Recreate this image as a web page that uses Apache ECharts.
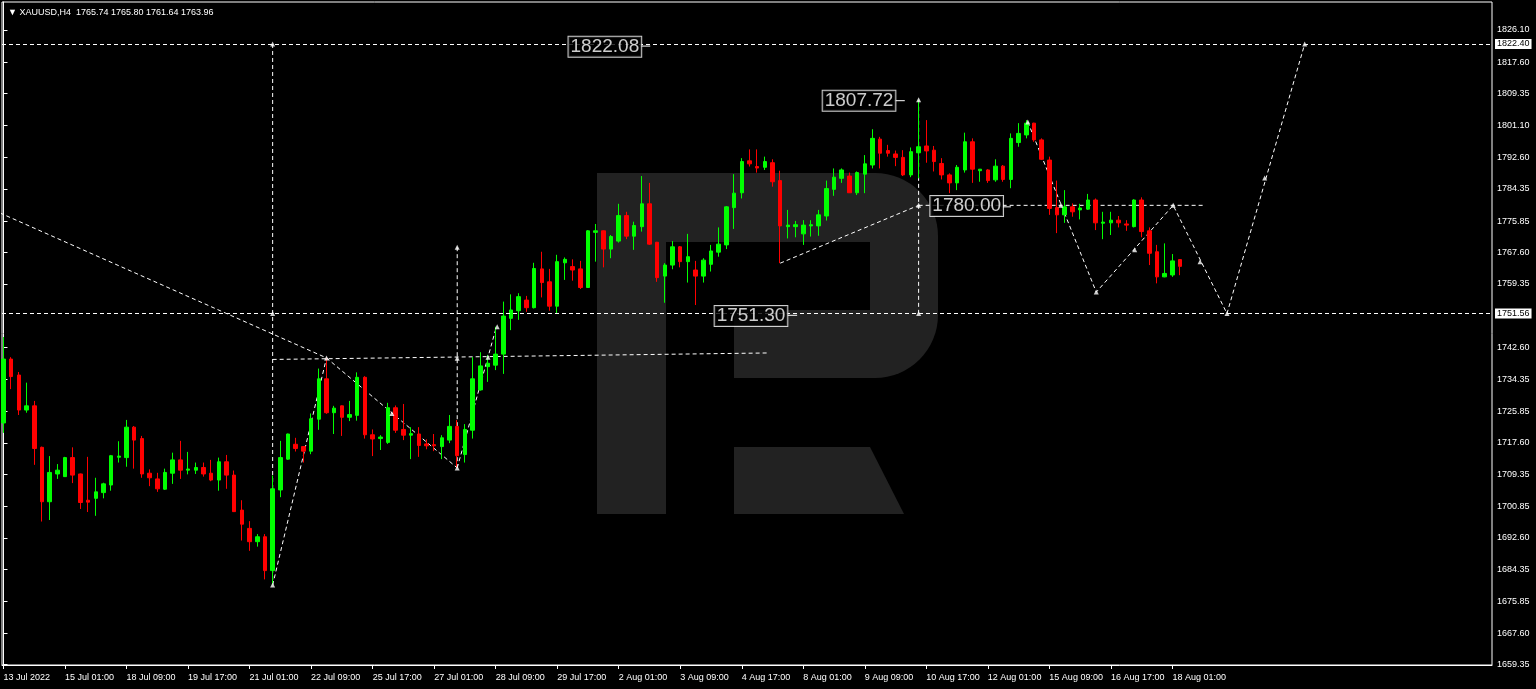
<!DOCTYPE html>
<html><head><meta charset="utf-8">
<script src="https://cdn.jsdelivr.net/npm/echarts@6/dist/echarts.min.js"></script>
<style>html,body{margin:0;padding:0;background:#000;}#c{width:1536px;height:689px;}</style>
</head><body><div id="c"></div>
<script>
const chartTitle = '\u25BC XAUUSD,H4  1765.74 1765.80 1761.64 1763.96';

const opens = [1722.8,1739.6,1735.4,1726.2,1727.3,1716.4,1702.1,1709.4,1708.7,1713.7,
1709.4,1702.5,1703.0,1704.5,1706.5,1713.8,1713.7,1721.7,1718.7,1709.6,
1708.1,1705.4,1709.6,1713.1,1710.4,1710.4,1711.1,1709.6,1707.8,1712.6,
1709.1,1699.9,1695.1,1691.6,1692.9,1684.0,1705.2,1713.3,1717.2,1716.6,
1715.4,1723.8,1734.4,1725.5,1727.3,1724.3,1724.8,1734.8,1719.7,1718.7,
1717.7,1726.8,1721.1,1719.6,1719.9,1717.3,1717.1,1716.6,1718.3,1721.9,
1714.5,1720.9,1731.5,1737.6,1738.0,1740.9,1750.3,1752.3,1755.1,1753.1,
1763.3,1759.9,1753.5,1764.9,1763.9,1763.3,1758.4,1772.9,1773.3,1768.5,
1770.6,1777.3,1771.9,1774.4,1780.4,1770.3,1761.4,1764.3,1769.1,1765.2,
1763.0,1761.4,1764.5,1767.7,1769.6,1779.4,1783.3,1791.7,1790.2,1790.0,
1791.2,1786.5,1774.4,1774.4,1772.5,1774.6,1774.6,1777.2,1784.2,1787.1,
1787.7,1783.3,1788.2,1790.6,1797.4,1794.4,1793.5,1792.6,1788.0,1793.8,
1795.6,1794.5,1791.0,1788.0,1785.9,1789.3,1796.7,1789.1,1789.3,1786.7,
1790.3,1786.8,1796.5,1798.5,1801.6,1797.2,1791.9,1779.4,1777.5,1779.6,
1778.8,1779.0,1781.4,1775.3,1775.4,1776.1,1775.1,1774.4,1781.4,1773.3,
1767.8,1761.2,1761.7,1765.74];

const highs = [1745.4,1740.1,1736.2,1733.4,1728.6,1716.6,1714.1,1712.0,1713.9,1716.4,
1709.5,1713.9,1708.4,1707.1,1714.4,1718.0,1723.6,1722.0,1719.4,1710.6,
1709.7,1710.8,1715.0,1718.1,1715.2,1712.4,1712.4,1713.1,1713.7,1714.4,
1710.3,1702.5,1697.0,1693.6,1693.6,1709.0,1718.1,1720.0,1718.9,1716.7,
1725.3,1737.1,1739.9,1727.3,1727.4,1728.6,1736.1,1735.1,1721.1,1719.6,
1728.1,1727.4,1727.8,1721.7,1721.7,1718.5,1719.9,1719.6,1724.9,1723.6,
1722.5,1740.1,1741.4,1740.7,1748.1,1754.7,1756.6,1756.9,1756.2,1764.9,
1767.8,1763.3,1767.0,1766.3,1765.8,1765.4,1773.5,1775.1,1773.4,1772.2,
1780.4,1778.3,1775.7,1787.7,1785.9,1770.4,1764.8,1770.6,1769.3,1772.5,
1765.4,1766.1,1769.6,1774.2,1779.8,1788.2,1792.4,1794.7,1794.7,1792.8,
1792.1,1789.1,1778.8,1775.9,1776.1,1776.1,1778.8,1786.5,1789.7,1789.7,
1788.6,1788.9,1793.2,1800.0,1798.0,1795.9,1794.4,1794.5,1795.2,1807.72,
1802.4,1795.6,1792.4,1788.4,1790.6,1799.1,1797.6,1789.5,1789.5,1792.1,
1790.6,1798.9,1801.6,1802.4,1801.7,1797.6,1792.8,1786.5,1784.0,1780.5,
1780.4,1783.0,1781.8,1778.3,1778.3,1777.2,1776.1,1781.6,1782.1,1774.2,
1769.6,1770.0,1767.2,1765.80];

const lows = [1720.2,1731.7,1724.9,1725.5,1711.8,1696.9,1697.3,1708.1,1708.6,1707.0,
1700.2,1699.4,1698.4,1703.0,1705.0,1712.4,1711.3,1710.8,1708.4,1706.2,
1704.7,1705.2,1706.8,1708.1,1709.3,1709.4,1708.7,1707.5,1705.0,1705.5,
1699.4,1691.9,1689.2,1690.3,1681.7,1680.2,1703.3,1713.1,1715.3,1712.4,
1714.6,1721.0,1725.2,1719.9,1719.4,1723.3,1723.4,1718.7,1714.1,1715.7,
1717.3,1720.2,1718.3,1713.3,1713.9,1715.9,1715.4,1713.3,1717.5,1711.1,
1712.4,1718.7,1731.3,1733.6,1736.7,1735.7,1747.2,1749.9,1752.0,1752.9,
1755.8,1752.3,1751.6,1760.4,1760.2,1758.0,1758.3,1765.2,1763.7,1766.1,
1770.2,1771.1,1768.3,1773.1,1769.6,1759.9,1754.4,1763.2,1763.7,1759.7,
1753.8,1759.7,1762.6,1766.5,1768.5,1773.8,1781.8,1790.2,1788.6,1789.3,
1784.9,1764.8,1771.3,1771.6,1769.6,1771.8,1772.0,1776.0,1782.5,1785.9,
1783.3,1782.7,1783.2,1789.7,1789.7,1792.8,1790.3,1787.7,1787.4,1787.1,
1791.2,1788.9,1786.8,1783.2,1784.0,1788.6,1785.9,1786.2,1785.9,1786.2,
1786.2,1784.5,1795.4,1797.6,1796.7,1791.9,1777.5,1772.7,1775.4,1777.0,
1776.3,1778.8,1773.5,1771.1,1772.2,1774.2,1773.3,1774.2,1771.6,1764.3,
1759.5,1761.1,1761.2,1761.64];

const closes = [1739.6,1735.0,1726.2,1727.3,1716.1,1702.1,1709.8,1710.4,1713.7,1709.1,
1701.9,1702.0,1704.7,1706.8,1714.2,1714.1,1721.7,1718.3,1709.4,1708.4,
1705.5,1709.8,1713.1,1710.4,1710.7,1711.1,1709.4,1707.8,1712.6,1709.1,
1699.5,1696.2,1691.6,1692.9,1684.0,1705.5,1713.7,1719.9,1716.1,1715.4,
1723.9,1734.4,1725.5,1726.7,1724.3,1725.0,1734.8,1719.7,1718.6,1719.1,
1726.8,1720.9,1719.6,1720.0,1716.9,1716.8,1716.8,1718.9,1721.9,1714.2,
1721.1,1734.4,1737.8,1738.5,1740.9,1750.9,1752.5,1756.0,1753.1,1763.4,
1759.7,1753.5,1765.2,1765.8,1763.0,1758.4,1773.3,1773.3,1768.5,1771.8,
1777.3,1771.9,1774.7,1780.4,1769.8,1761.0,1764.3,1769.1,1765.2,1766.5,
1761.4,1765.6,1768.0,1769.8,1779.6,1783.2,1791.5,1790.9,1789.8,1791.5,
1786.2,1774.6,1774.8,1774.9,1774.8,1774.9,1777.5,1784.4,1787.4,1789.3,
1783.3,1788.6,1790.9,1797.6,1793.7,1793.7,1792.6,1788.0,1794.1,1795.4,
1794.3,1791.5,1788.0,1785.9,1790.0,1796.7,1789.5,1789.5,1786.5,1790.3,
1786.8,1797.6,1798.9,1801.6,1797.2,1792.1,1779.2,1777.5,1779.6,1778.3,
1779.3,1781.4,1775.4,1775.6,1776.1,1775.4,1774.8,1781.4,1773.1,1767.4,
1761.2,1762.1,1765.4,1763.96];

const xTickIdx = [0,8,16,24,32,40,48,56,64,72,80,88,96,104,112,120,128,136,144,152];
const xTickLabels = ['13 Jul 2022','15 Jul 01:00','18 Jul 09:00','19 Jul 17:00','21 Jul 01:00',
'22 Jul 09:00','25 Jul 17:00','27 Jul 01:00','28 Jul 09:00','29 Jul 17:00','2 Aug 01:00',
'3 Aug 09:00','4 Aug 17:00','8 Aug 01:00','9 Aug 09:00','10 Aug 17:00','12 Aug 01:00',
'15 Aug 09:00','16 Aug 17:00','18 Aug 01:00'];
const yTicks = [1826.10,1817.60,1809.35,1801.10,1792.60,1784.35,1775.85,1767.60,1759.35,
1742.60,1734.35,1725.85,1717.60,1709.35,1700.85,1692.60,1684.35,1675.85,1667.60,1659.35];

const levelTop = 1822.40;
const levelBottom = 1751.56;
const lastPrice = 1763.96;

// analyst drawings: [bar index, price]
const trendDown = [[-0.46,1778.0],[42,1739.9],[59,1711.0]];
const legUp1 = [[35,1680.2],[42,1739.9]];
const vertA = [[35,1822.4],[35,1680.2]];
const flatA = [[35,1739.5],[99.3,1741.2]];
const vertB = [[59,1769.0],[59,1711.0]];
const legUp2 = [[59,1711.0],[64.1,1748.1]];
const legUp3 = [[101,1764.8],[119,1780.0]];
const flatB = [[119,1780.0],[156.0,1780.0]];
const vertC = [[119,1807.72],[119,1751.56]];
const forecast = [[133.2,1801.9],[142.1,1757.2],[152.1,1780.0],[159.1,1751.56],[169.2,1822.4]];
const arrowPts = [[35,1822.4],[35,1751.56],[35,1680.2],[42,1739.9],[50.5,1725.3],[59,1739.8],
[59,1711.0],[59,1769.0],[63,1740.1],[64.2,1748.1],[119,1780.0],[119,1807.72],[119,1751.56],
[133.2,1801.9],[137.5,1780.0],[142.1,1757.2],[147.1,1768.3],[152.1,1780.0],[155.6,1765.2],
[159.1,1751.56],[164,1787.2],[169.2,1822.4]];
const priceTags = [[78.2,1821.7,'1822.08'],[111.25,1807.47,'1807.72'],[125.25,1779.8,'1780.00'],[97.2,1750.9,'1751.30']];
const tagTicks = [[[82.8,1821.85],[84.1,1821.85]],[[115.8,1807.5],[117.2,1807.5]],[[129.8,1779.6],[131.0,1779.6]],[[101.9,1751.1],[103.2,1751.1]]];

const FONT = 'Liberation Sans, Arial, sans-serif';
const dash = [4,3];

function lineSeries(d, solid){
  return {type:'line', data:d, symbol:'none', silent:true, z:1, clip:true,
    lineStyle:{color:'#ffffff', width:1, type: solid ? 'solid' : dash}};
}

const candleData = opens.map((o,i)=>[i,o,closes[i],lows[i],highs[i]]);

const chart = echarts.init(document.getElementById('c'), null, {renderer:'canvas'});
const gray = '#222222';
chart.setOption({
  backgroundColor:'#000000',
  animation:false,
  title:{text:chartTitle, left:3, top:3, textStyle:{color:'#ffffff', fontSize:9, fontWeight:'normal', fontFamily:FONT}},
  graphic:{elements:[
    {type:'rect', z:0, z2:0, shape:{x:597,y:173,width:341,height:205,r:[0,63,63,0]}, style:{fill:gray}},
    {type:'rect', z:0, z2:1, shape:{x:666,y:242,width:204,height:68}, style:{fill:'#000'}},
    {type:'rect', z:0, z2:1, shape:{x:666,y:310,width:68,height:69}, style:{fill:'#000'}},
    {type:'rect', z:0, z2:0, shape:{x:597,y:377,width:69,height:137}, style:{fill:gray}},
    {type:'polygon', z:0, z2:0, shape:{points:[[734,447],[870,447],[904,514],[734,514]]}, style:{fill:gray}}
  ]},
  grid:{left:2, right:44, top:2, bottom:24, show:true, borderColor:'#ffffff', borderWidth:1, containLabel:false, outerBoundsMode:'none'},
  xAxis:{type:'value', min:-0.195, max:193.56, splitLine:{show:false},
    axisLine:{show:true, lineStyle:{color:'#ffffff'}},
    axisTick:{show:true, customValues:xTickIdx, length:4, lineStyle:{color:'#ffffff'}},
    axisLabel:{customValues:xTickIdx, color:'#ffffff', fontSize:9, fontFamily:FONT, align:'left', margin:8,
      formatter:(v)=>{const k=xTickIdx.indexOf(Math.round(v)); return k>=0?xTickLabels[k]:'';}}
  },
  yAxis:{type:'value', position:'right', min:1659.195, max:1833.438, scale:true, splitLine:{show:false},
    axisLine:{show:true, lineStyle:{color:'#ffffff'}},
    axisTick:{show:true, customValues:yTicks, length:4, lineStyle:{color:'#ffffff'}},
    axisLabel:{customValues:yTicks, color:'#ffffff', fontSize:9, fontFamily:FONT, margin:5,
      formatter:(v)=>v.toFixed(2)}
  },
  series:[
    lineSeries(trendDown), lineSeries(legUp1), lineSeries(vertA), lineSeries(flatA),
    lineSeries(vertB), lineSeries(legUp2), lineSeries(legUp3), lineSeries(flatB),
    lineSeries(vertC), lineSeries(forecast),
    ...tagTicks.map(t=>lineSeries(t,true)),
    {type:'candlestick', z:2, clip:true, barWidth:4,
      dimensions:['idx','open','close','lowest','highest'],
      encode:{x:'idx', y:['open','close','lowest','highest']},
      data:candleData,
      itemStyle:{color:'#00ff00', color0:'#ff0000', borderColor:'#00ff00', borderColor0:'#ff0000', borderColorDoji:null, borderWidth:1},
      markLine:{silent:true, symbol:['none','none'], animation:false,
        data:[
          {yAxis:levelTop, lineStyle:{color:'#ffffff', type:dash, width:1}, label:{formatter:levelTop.toFixed(2)}},
          {yAxis:levelBottom, lineStyle:{color:'#ffffff', type:dash, width:1}, label:{formatter:levelBottom.toFixed(2)}},
          {yAxis:lastPrice, lineStyle:{opacity:0}, label:{formatter:lastPrice.toFixed(2)}}
        ],
        label:{show:true, position:'end', distance:3, color:'#000000', backgroundColor:'#ffffff',
          padding:[1,2,0,2], fontSize:9, fontFamily:FONT}
      }
    },
    {type:'scatter', z:3, silent:true, symbol:'triangle', symbolSize:5, data:arrowPts,
      itemStyle:{color:'#ffffff'}},
    {type:'scatter', z:5, silent:true, symbolSize:0, data:priceTags,
      label:{show:true, position:'inside', formatter:(p)=>p.data[2], color:'#ffffff', fontSize:19,
        fontFamily:FONT, backgroundColor:'#000000', borderColor:'#ffffff', borderWidth:1, padding:[1,2,0,2]}}
  ]
});
</script></body></html>
